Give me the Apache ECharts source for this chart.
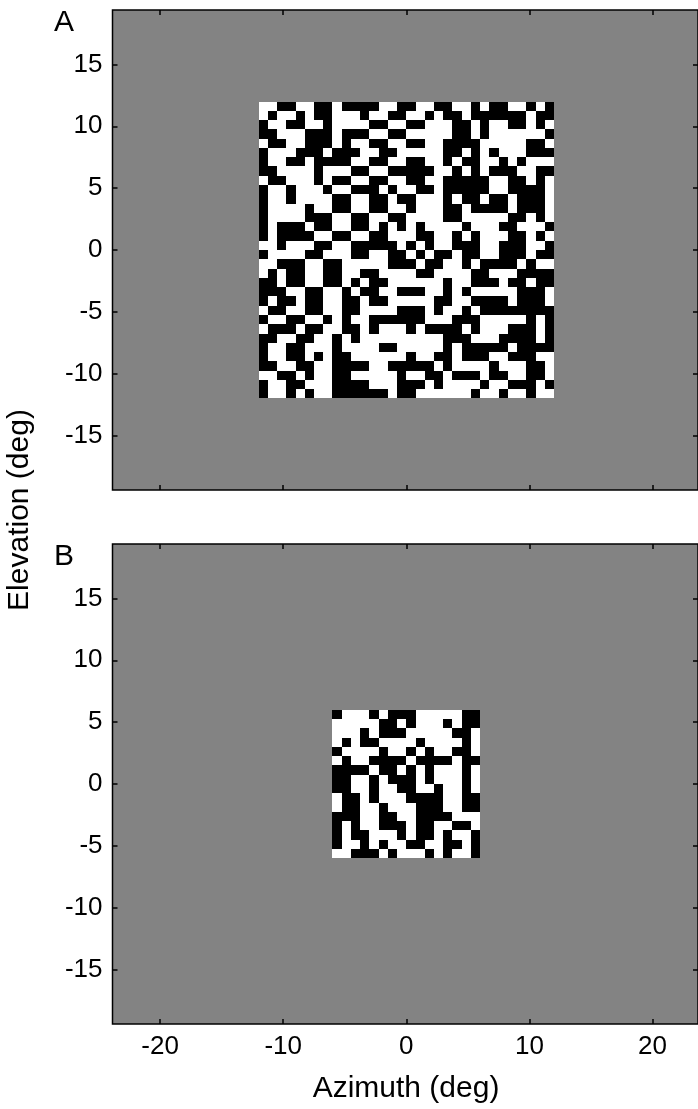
<!DOCTYPE html>
<html>
<head>
<meta charset="utf-8">
<script src="https://cdn.jsdelivr.net/npm/echarts@6/dist/echarts.min.js"></script>
<style>
  html, body { margin: 0; padding: 0; background: #fff; }
  #chart { width: 698px; height: 1109px; }
</style>
</head>
<body>
<div id="chart"></div>
<script>
// tick values
const xTicks = [-20, -10, 0, 10, 20]
const yTicks = [-15, -10, -5, 0, 5, 10, 15]

// each patch cell is 0.75 deg, patches centred on 0,0
const cellSize = 0.75

// patch A: 32 x 32 cells, rows top -> bottom, 1 = black, 0 = white
const patchA = [
  "00110011011110011001100101100101",
  "01001011000100110010110111111011",
  "10011001000011001100011010011010",
  "11000111011100110000011010000001",
  "01100111010011001100111100000110",
  "10001110111001100000110101000111",
  "10011011110011001100101100101000",
  "11000010001100111110010101110011",
  "01100010110011001100111110011010",
  "10010001001110100110111110011110",
  "10010000110011011000101101101110",
  "10000100110011001000110111101110",
  "10000111001100110000110000011010",
  "10111011001101010100001000110001",
  "10111100110011000110010100011010",
  "00100011001111101010011100111001",
  "10000110001100110101101100111011",
  "00111001100000111011001011110100",
  "01011001100110000110000110001111",
  "11011001101011000000100111011011",
  "11100110010110011100101000001110",
  "10110110011011000001100111101110",
  "01100110011000011101001011111111",
  "10011001010011111100011100000101",
  "01110110011010001011110100011101",
  "11001100101000000000111000111101",
  "10011000100001100000101111101111",
  "10011010110000001001101110011100",
  "11001100111100111110100001000110",
  "00110100110000010011011101100110",
  "10011000111100011101000010011101",
  "10010100111111011000000100100100"
]

// patch B: 16 x 16 cells
const patchB = [
  "1000101110000011",
  "0000011010001011",
  "0001011100000110",
  "0101100001000010",
  "1000010010100110",
  "0100111101111011",
  "1111011010100010",
  "1100101110100010",
  "1100100110010010",
  "0110100011110011",
  "0110010001110011",
  "1110011001111000",
  "1010011101100110",
  "1011000101101001",
  "1001010011001101",
  "0011101000101001"
]

// [x0, y0, x1, y1, black]
const toCells = (rows) => {
  const half = rows.length * cellSize / 2
  const out = []
  rows.forEach((row, r) => {
    for (let c = 0; c < row.length; c++) {
      const x0 = -half + c * cellSize
      const y1 = half - r * cellSize
      out.push([x0, y1 - cellSize, x0 + cellSize, y1, Number(row[c])])
    }
  })
  return out
}

const renderCell = (params, api) => {
  const a = api.coord([api.value(0), api.value(3)])
  const b = api.coord([api.value(2), api.value(1)])
  const x = Math.round(a[0])
  const y = Math.round(a[1])
  return {
    type: "rect",
    shape: { x: x, y: y, width: Math.round(b[0]) - x, height: Math.round(b[1]) - y },
    style: { fill: api.value(4) ? "#000000" : "#ffffff" }
  }
}

const font = "'Liberation Sans', Arial, sans-serif"
const tick = (vals) => ({
  show: true, inside: true, length: 5, customValues: vals,
  lineStyle: { color: "#000", width: 1.5 }
})
const label = (vals, show) => ({
  show: show, customValues: vals, fontSize: 26, color: "#000",
  fontFamily: font, margin: 10
})

const xRange = { min: -23.87, max: 23.7 }
const yRange = { min: -19.4, max: 19.4 }

const xAxisFor = (gridIndex, position, showLabel) => ({
  type: "value", gridIndex, position, ...xRange,
  axisLine: { show: false, onZero: false }, splitLine: { show: false },
  axisTick: tick(xTicks), axisLabel: label(xTicks, showLabel)
})
const yAxisFor = (gridIndex, position, showLabel) => ({
  type: "value", gridIndex, position, ...yRange,
  axisLine: { show: false, onZero: false }, splitLine: { show: false },
  axisTick: tick(yTicks), axisLabel: label(yTicks, showLabel)
})

const gridBase = {
  left: 112.5, width: 587, height: 480, show: true,
  backgroundColor: "#838383", borderColor: "#000", borderWidth: 1.5
}

const chart = echarts.init(document.getElementById("chart"))
chart.setOption({
  animation: false,
  backgroundColor: "#fff",
  grid: [
    { ...gridBase, top: 10 },
    { ...gridBase, top: 544 }
  ],
  xAxis: [
    xAxisFor(0, "bottom", false),
    xAxisFor(0, "top", false),
    xAxisFor(1, "bottom", true),
    xAxisFor(1, "top", false)
  ],
  yAxis: [
    yAxisFor(0, "left", true),
    yAxisFor(0, "right", false),
    yAxisFor(1, "left", true),
    yAxisFor(1, "right", false)
  ],
  series: [
    {
      type: "custom", xAxisIndex: 0, yAxisIndex: 0,
      data: toCells(patchA), encode: { x: [0, 2], y: [1, 3] },
      renderItem: renderCell, clip: false
    },
    {
      type: "custom", xAxisIndex: 2, yAxisIndex: 2,
      data: toCells(patchB), encode: { x: [0, 2], y: [1, 3] },
      renderItem: renderCell, clip: false
    }
  ],
  graphic: [
    { type: "text", left: 54, top: 8, style: { text: "A", font: "30px " + font, fill: "#000" } },
    { type: "text", left: 54, top: 542, style: { text: "B", font: "30px " + font, fill: "#000" } },
    {
      type: "text", x: 20, y: 510, rotation: Math.PI / 2,
      style: { text: "Elevation (deg)", font: "30px " + font, fill: "#000", align: "center", verticalAlign: "middle" }
    },
    {
      type: "text", x: 406, y: 1089,
      style: { text: "Azimuth (deg)", font: "30px " + font, fill: "#000", align: "center", verticalAlign: "middle" }
    }
  ]
})
</script>
</body>
</html>
